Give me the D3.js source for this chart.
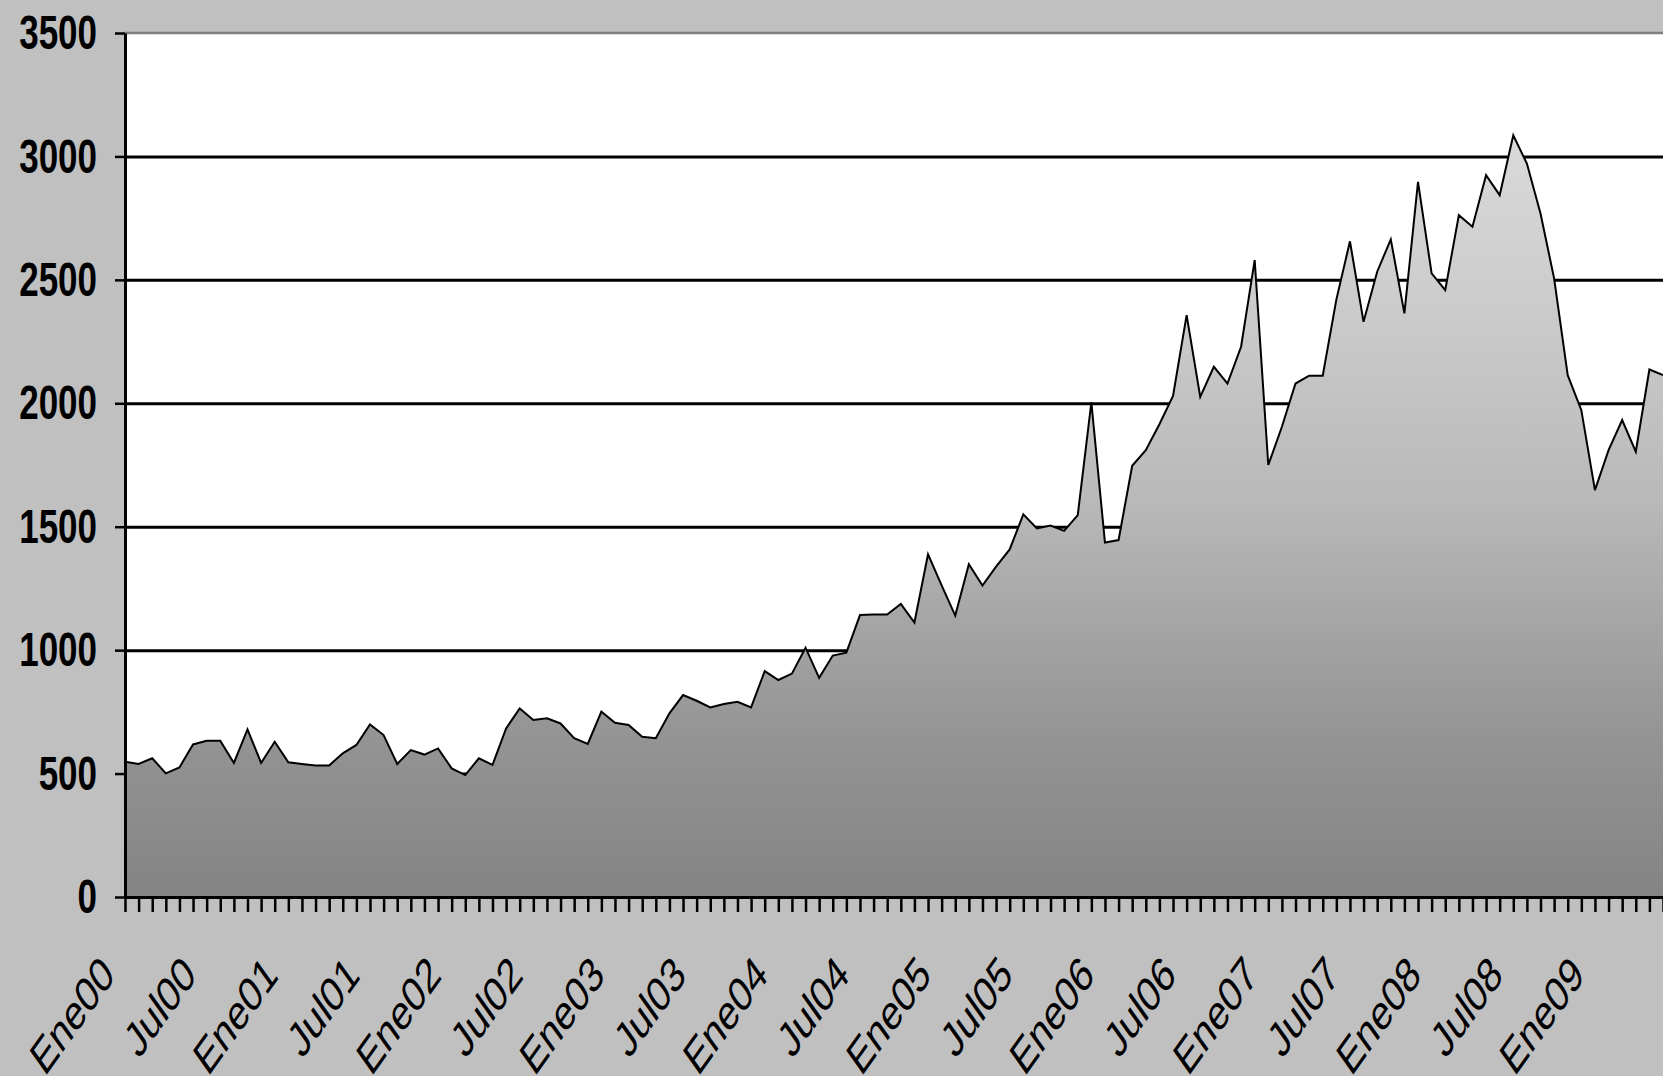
<!DOCTYPE html>
<html>
<head>
<meta charset="utf-8">
<script src="https://cdn.jsdelivr.net/npm/d3@7"></script>
<style>
  body { margin: 0; background: #c0c0c0; overflow: hidden; }
</style>
</head>
<body>
<div id="chart"></div>
<script>
// meses en español, años 2000-2009
const monthNames = ["Ene","Feb","Mar","Abr","May","Jun","Jul","Ago","Sep","Oct","Nov","Dic"];
const years = ["00","01","02","03","04","05","06","07","08","09"];

// valores mensuales (Ene00 .. Jun09)
const precios = [
  548, 539, 562, 501, 525, 618, 633, 633, 543, 679, 543, 629,
  546, 539, 533, 533, 582, 616, 699, 656, 539, 595, 577, 602,
  521, 494, 562, 535, 683, 764, 717, 724, 703, 643, 620, 751,
  706, 697, 649, 643, 744, 818, 795, 768, 782, 791, 768, 915,
  879, 905, 1010, 888, 978, 990, 1142, 1144, 1144, 1187, 1112, 1388,
  1262, 1140, 1348, 1262, 1338, 1408, 1550, 1493, 1505, 1483, 1547, 2004,
  1436, 1446, 1747, 1810, 1915, 2030, 2357, 2026, 2148, 2080, 2229, 2580,
  1750, 1905, 2080, 2112, 2112, 2420, 2656, 2330, 2533, 2664, 2364, 2897,
  2526, 2458, 2762, 2715, 2924, 2843, 3086, 2971, 2769, 2506, 2114, 1972,
  1648, 1810, 1932, 1804, 2137, 2114
];

const yTicks = [0, 500, 1000, 1500, 2000, 2500, 3000, 3500];
const gridTicks = [500, 1000, 1500, 2000, 2500, 3000];

const categorias = [];
years.forEach(a => monthNames.forEach(m => categorias.push(m + a)));
const meses = categorias.slice(0, precios.length);

const width = 1663;
const height = 1076;
const plotLeft = 125, plotRight = 1663, plotTop = 33, plotBottom = 897;

const x = d3.scalePoint()
  .domain(meses)
  .range([plotLeft, plotRight]);

const y = d3.scaleLinear()
  .domain([0, 3500])
  .range([plotBottom, plotTop]);

const svg = d3.select("#chart")
  .append("svg")
  .attr("width", width)
  .attr("height", height)
  .style("display", "block")
  .style("background", "#c0c0c0");

const defs = svg.append("defs");
const grad = defs.append("linearGradient")
  .attr("id", "fillGrad")
  .attr("gradientUnits", "userSpaceOnUse")
  .attr("x1", 0).attr("x2", 0)
  .attr("y1", y(3100)).attr("y2", y(0));
[[0, "#dadada"], [0.22, "#cccccc"], [0.48, "#b9b9b9"], [0.67, "#a2a2a2"], [0.8, "#939393"], [1, "#848484"]]
  .forEach(s => grad.append("stop").attr("offset", s[0]).attr("stop-color", s[1]));

// plot area
svg.append("rect")
  .attr("x", plotLeft)
  .attr("y", plotTop)
  .attr("width", plotRight - plotLeft + 5)
  .attr("height", plotBottom - plotTop)
  .attr("fill", "#ffffff");

// gridlines
const grid = svg.append("g")
  .attr("transform", `translate(${plotLeft},0)`)
  .call(d3.axisLeft(y).tickValues(gridTicks).tickSize(-(plotRight - plotLeft + 5)).tickFormat(""));
grid.select(".domain").remove();
grid.selectAll("line").attr("stroke", "#000").attr("stroke-width", 3);

const area = d3.area()
  .x((d, i) => x(meses[i]))
  .y0(y(0))
  .y1(d => y(d));

const line = d3.line()
  .x((d, i) => x(meses[i]))
  .y(d => y(d));

svg.append("path")
  .datum(precios)
  .attr("d", area)
  .attr("fill", "url(#fillGrad)");

svg.append("path")
  .datum(precios)
  .attr("d", line)
  .attr("fill", "none")
  .attr("stroke", "#000")
  .attr("stroke-width", 2)
  .attr("stroke-linejoin", "miter");

// top border of the plot area
svg.append("line")
  .attr("x1", plotLeft).attr("x2", width)
  .attr("y1", y(3500)).attr("y2", y(3500))
  .attr("stroke", "#808080")
  .attr("stroke-width", 2.5);

// y axis
const yAxis = svg.append("g")
  .attr("transform", `translate(${plotLeft},0)`)
  .call(d3.axisLeft(y).tickValues(yTicks).tickSize(10).tickSizeOuter(0).tickPadding(18)
    .tickFormat(d3.format("d")));
yAxis.select(".domain").attr("stroke", "#000").attr("stroke-width", 3);
yAxis.selectAll("line").attr("stroke", "#000").attr("stroke-width", 2.5);
yAxis.selectAll("text")
  .attr("fill", "#000")
  .style("font-family", "'Liberation Sans', Arial, sans-serif")
  .style("font-size", "35px")
  .style("font-weight", "bold")
  .attr("transform", "scale(1,1.4)");

// x axis
const xAxis = svg.append("g")
  .attr("transform", `translate(0,${plotBottom})`)
  .call(d3.axisBottom(x).tickSize(15).tickSizeOuter(0)
    .tickFormat((d, i) => i % 6 === 0 ? d : ""));
xAxis.select(".domain").attr("stroke", "#000").attr("stroke-width", 3);
xAxis.selectAll("line").attr("stroke", "#000").attr("stroke-width", 2.5);
xAxis.selectAll("text")
  .attr("fill", "#000")
  .attr("x", 0)
  .attr("y", 0)
  .attr("dy", "0.35em")
  .attr("text-anchor", "end")
  .attr("transform", "translate(-18,68) scale(1,1.4) rotate(-45)")
  .style("font-family", "'Liberation Sans', Arial, sans-serif")
  .style("font-size", "35px");
</script>
</body>
</html>
